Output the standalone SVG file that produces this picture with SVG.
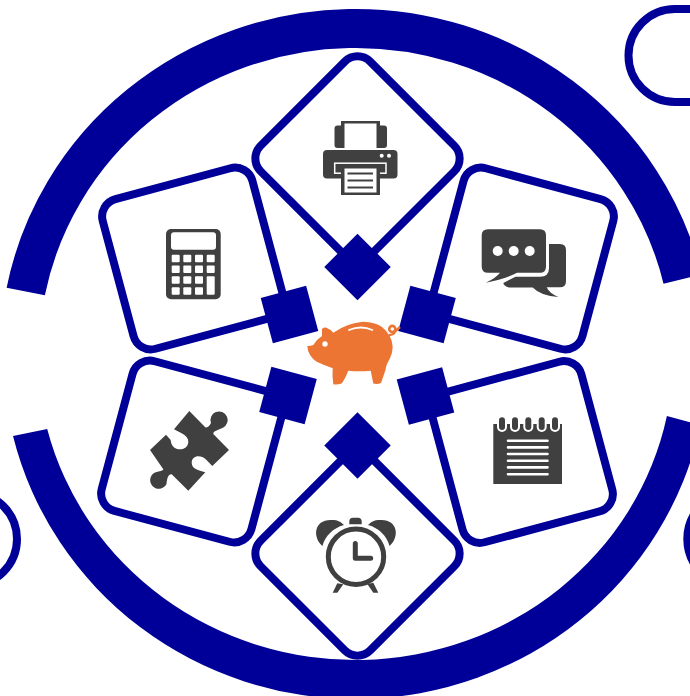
<svg xmlns="http://www.w3.org/2000/svg" width="690" height="696" viewBox="0 0 690 696">
<style>
.frame{fill:none;stroke:#000099;stroke-width:8}
.ring{fill:none;stroke:#000099;stroke-width:39}
.pill{fill:none;stroke:#000099;stroke-width:8}
.hub{fill:#000099}
.ic{fill:#404040}
.w{fill:#fff}
.wl{fill:none;stroke:#fff;stroke-linecap:round}
.dl{fill:none;stroke:#404040}
</style>
<defs>
<rect id="box" x="-77.5" y="-77.5" width="155" height="155" rx="18" ry="18" class="frame"/>
<rect id="hubsq" x="-23.5" y="-23.5" width="47" height="47" class="hub"/>
</defs>
<rect width="690" height="696" fill="#fff"/>
<g id="ring">
<path class="ring" d="M25.75 291.5A336 325.5 0 0 1 682.46 279"/>
<path class="hub" d="M13 436A352.6 345 0 0 0 700.5 425.2L666.9 416A318 306 0 0 1 47.2 429Z"/>
</g>
<g id="corners">
<path class="pill" d="M694 9H675A46.5 46.5 0 0 0 675 102H694"/>
<circle class="pill" cx="-29.5" cy="539" r="46.5"/>
<circle class="pill" cx="733.8" cy="539" r="46.5"/>
</g>
<g id="node-printer">
<use href="#box" transform="translate(357.5 158.5) rotate(45)"/>
<use href="#hubsq" transform="translate(357.5 267) rotate(45)"/>
<rect class="ic" x="334.5" y="125.5" width="52.5" height="22.5" rx="3"/>
<rect class="w" x="342.5" y="121" width="36" height="27"/>
<rect class="ic" x="341" y="121" width="39" height="27"/>
<rect class="w" x="344.5" y="123.5" width="32" height="25"/>
<rect class="ic" x="323" y="150" width="74.5" height="28.5" rx="4"/>
<circle class="w" cx="381.7" cy="155.7" r="2"/>
<circle class="w" cx="389" cy="155.7" r="2"/>
<rect x="334.7" y="163.2" width="51.3" height="10" fill="#404040" stroke="#fff" stroke-width="1.5"/>
<rect class="ic" x="341" y="167.5" width="39" height="27.5"/>
<rect class="w" x="344.5" y="168.5" width="32" height="24"/>
<path class="dl" stroke-width="2" d="M347.5 173.5H373M347.5 180.5H373M347.5 187.5H373"/>
</g>
<g id="node-calculator">
<use href="#box" transform="translate(193 258.5) rotate(-15)"/>
<use href="#hubsq" transform="translate(289.5 314.5) rotate(-15)"/>
<rect class="ic" x="166" y="229" width="54.7" height="70.3" rx="5"/>
<rect class="w" x="171" y="232.3" width="45" height="17.4" rx="3"/>
<g class="w">
<rect x="171.7" y="254.7" width="8" height="7.5" rx="1"/><rect x="183.3" y="254.7" width="8" height="7.5" rx="1"/><rect x="195" y="254.7" width="8" height="7.5" rx="1"/><rect x="206.7" y="254.7" width="8" height="7.5" rx="1"/>
<rect x="171.7" y="265.5" width="8" height="7.5" rx="1"/><rect x="183.3" y="265.5" width="8" height="7.5" rx="1"/><rect x="195" y="265.5" width="8" height="7.5" rx="1"/><rect x="206.7" y="265.5" width="8" height="7.5" rx="1"/>
<rect x="171.7" y="276.3" width="8" height="7.5" rx="1"/><rect x="183.3" y="276.3" width="8" height="7.5" rx="1"/><rect x="195" y="276.3" width="8" height="7.5" rx="1"/><rect x="206.7" y="276.3" width="8" height="18.4" rx="1"/>
<rect x="171.7" y="287.2" width="8" height="7.5" rx="1"/><rect x="183.3" y="287.2" width="8" height="7.5" rx="1"/><rect x="195" y="287.2" width="8" height="7.5" rx="1"/>
</g>
</g>
<g id="node-chat">
<use href="#box" transform="translate(523 258.5) rotate(15)"/>
<use href="#hubsq" transform="translate(427 314.5) rotate(15)"/>
<path class="ic" d="M488 229.3H540Q546 229.3 546 235.3V266.7Q546 272.7 540 272.7H517Q505 279 485.7 282.7Q496 278 500 272.7H488Q481.7 272.7 481.7 266.7V235.3Q481.7 229.3 488 229.3Z"/>
<circle class="w" cx="497.7" cy="251" r="5"/>
<circle class="w" cx="513.7" cy="251" r="5"/>
<circle class="w" cx="529.7" cy="251" r="5"/>
<path class="ic" d="M549 244H560Q566 244 566 250V281Q566 287.3 560 287.3H546.7Q549 293 558.3 297Q541 296 532.7 287.5H509Q504 286 503.3 283L515.5 276.7H540Q549 276.7 549 268Z"/>
</g>
<g id="node-puzzle">
<use href="#box" transform="translate(192 451.5) rotate(15)"/>
<use href="#hubsq" transform="translate(288 395.5) rotate(15)"/>
<path class="ic" d="M189.3 411L205.5 427.5C208 428 210 425 211 423A8.6 8.6 0 1 1 223 427.7C218 430 213 431 213.3 434L229 450L212.3 466L206 459.5C200 454 191.5 456 191.7 463C192 469 198 470 205.3 472.3L188.3 490.7L171.7 474.3C168 474 167 479 166.5 484A8.6 8.6 0 1 1 155 472.5C160 471 163 471 163.3 469.3L150 450L166 434.7L170.7 440C171 446 175 449.3 180 449.3C185 449.3 188.3 446 188.3 441.7C188.3 435 180 433 174 429.3Z"/>
</g>
<g id="node-notepad">
<use href="#box" transform="translate(522 452) rotate(-15)"/>
<use href="#hubsq" transform="translate(425.5 396) rotate(-15)"/>
<rect class="ic" x="493.3" y="424" width="68.7" height="60"/>
<g class="w">
<rect x="497" y="417" width="10" height="15" rx="5"/><rect x="510" y="417" width="10" height="15" rx="5"/><rect x="523.3" y="417" width="10" height="15" rx="5"/><rect x="536.7" y="417" width="10" height="15" rx="5"/><rect x="550" y="417" width="10" height="15" rx="5"/>
</g>
<rect class="w" x="490" y="412" width="76" height="12"/>
<g class="ic">
<rect x="499" y="417.3" width="6" height="12.7" rx="3"/><rect x="512" y="417.3" width="6" height="12.7" rx="3"/><rect x="525.3" y="417.3" width="6" height="12.7" rx="3"/><rect x="538.7" y="417.3" width="6" height="12.7" rx="3"/><rect x="552" y="417.3" width="6" height="12.7" rx="3"/>
</g>
<path class="wl" stroke-width="2.6" d="M508 440.7H547.5M508 447.4H547.5M508 454H547.5M508 460.7H547.5M508 467.4H547.5M508 474.3H547.5"/>
</g>
<g id="node-clock">
<use href="#box" transform="translate(357.5 553.5) rotate(45)"/>
<use href="#hubsq" transform="translate(357.5 445.5) rotate(45)"/>
<circle cx="356" cy="556.7" r="27.7" fill="none" stroke="#404040" stroke-width="5"/>
<path class="dl" stroke-width="5" stroke-linecap="round" stroke-linejoin="round" d="M355.3 543.5V558.3H370.7"/>
<path class="ic" d="M322.5 546C312 537 314 519 332 520C338 520 341 522 344 525C333 528 325 536 322.5 546Z"/>
<path class="ic" d="M389.5 546C400 537 398 519 380 520C374 520 371 522 368 525C379 528 387 536 389.5 546Z"/>
<path class="ic" d="M349.3 524.3V521.5Q349.3 517.7 353 517.7H358Q361.7 517.7 361.7 521.5V524.3Z"/>
<path class="ic" d="M337.3 583.3L343.3 584.3L337.3 592.7H332.7Z"/>
<path class="ic" d="M367.3 584L373.3 582.7L378.3 592.7H373.3Z"/>
</g>
<g id="node-piggy">
<circle cx="392.3" cy="329" r="3.1" fill="none" stroke="#ED7533" stroke-width="2.6"/>
<path fill="none" stroke="#ED7533" stroke-width="2.4" d="M389 335Q394 335 395 331.5L400 327"/>
<path fill="#ED7533" d="M307.3 346Q311 346 313.3 345Q317 339 322 336L322 329Q323 327 326 327.5Q330 329 333.3 332.7Q347 323 363.3 321.7Q375 322 382 327Q392 335 392.7 346.7Q392.5 353 390 358.3Q386 365 385.5 370L381 383Q377 384.5 373.3 383.5L370.7 370.7Q360 372 348.3 370.7Q345 379 341.7 383.5Q337 385 333.3 384.2Q332 376 332.7 368.3Q325 365.5 316.7 361.7Q308 356 307.3 346Z"/>
<circle class="w" cx="325" cy="344" r="2.7"/>
<path class="wl" stroke-width="1.8" d="M349 330Q361 325 372.3 330"/>
</g>
</svg>
